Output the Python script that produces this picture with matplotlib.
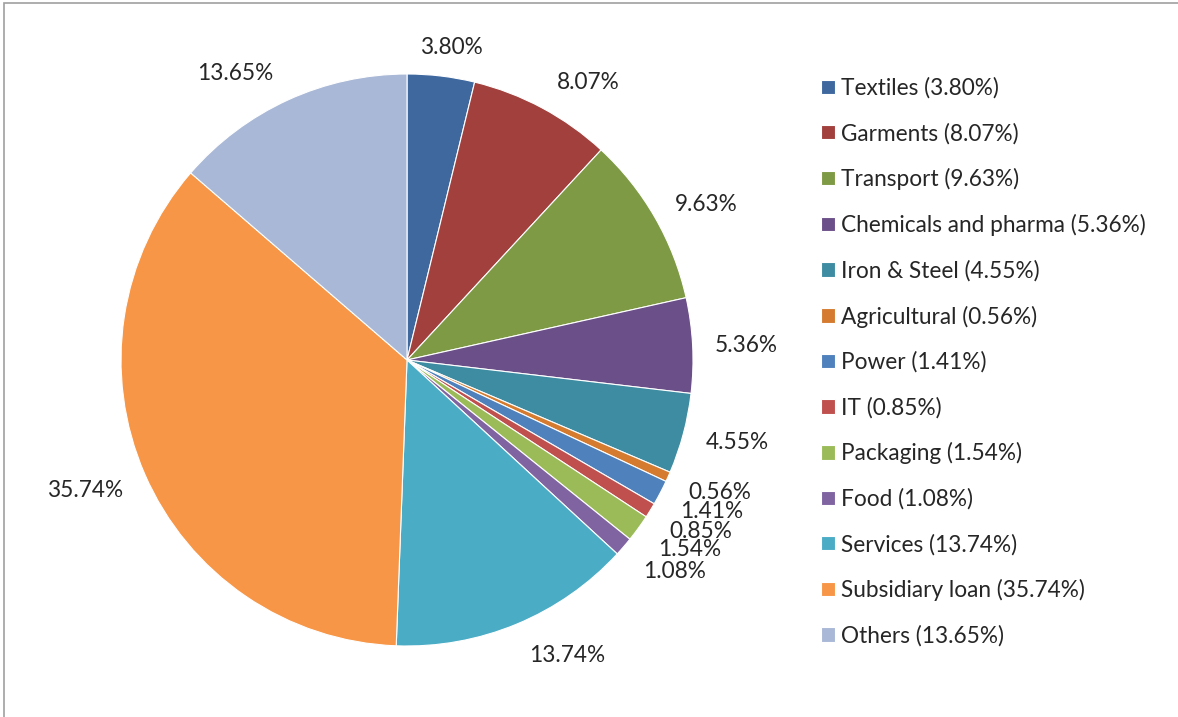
import matplotlib.pyplot as plt
from matplotlib.patches import Rectangle

# data
sectors = ['Textiles', 'Garments', 'Transport', 'Chemicals and pharma', 'Iron & Steel',
           'Agricultural', 'Power', 'IT', 'Packaging', 'Food', 'Services',
           'Subsidiary loan', 'Others']
shares = [3.80, 8.07, 9.63, 5.36, 4.55, 0.56, 1.41, 0.85, 1.54, 1.08, 13.74, 35.74, 13.65]
colors = ['#3F689F', '#A1403D', '#7E9A45', '#6A4F88', '#3D8CA2', '#D57B30', '#4F81BD',
          '#C0504D', '#9BBB59', '#8064A2', '#4BACC6', '#F79646', '#A9B8D6']

plt.rcParams['font.family'] = ['Lato', 'DejaVu Sans']

W, H = 1178, 717
fig = plt.figure(figsize=(W / 100, H / 100), dpi=100)

# outer chart frame (only top and left edges are visible)
fig.add_artist(Rectangle((4 / W, -0.1), 1.2, (H - 3) / H + 0.1, transform=fig.transFigure,
                         fill=False, edgecolor='#A0A0A0', linewidth=1.2))

# pie axes: centre (407, 360) px, radius 286 px
cx, cy, R, box = 407, 360, 286, 350
ax = fig.add_axes([(cx - box) / W, (H - cy - box) / H, 2 * box / W, 2 * box / H])

wedges, _ = ax.pie(shares, colors=colors, startangle=90, counterclock=False, radius=1,
                   wedgeprops=dict(edgecolor='white', linewidth=0.8))
lim = box / R
ax.set_xlim(-lim, lim)
ax.set_ylim(-lim, lim)
ax.set_aspect('equal')
ax.axis('off')

# data label positions (in pie radius units), best-fit style as in the original
label_pos = [(0.157, 1.094), (0.633, 0.972), (1.045, 0.545), (1.185, 0.049),
             (1.154, -0.290), (1.094, -0.465), (1.066, -0.531), (1.027, -0.598),
             (0.987, -0.664), (0.934, -0.741), (0.559, -1.034), (-1.126, -0.455),
             (-0.601, 1.003)]

for (x, y), v in zip(label_pos, shares):
    ax.text(x, y, f'{v:.2f}%', ha='center', va='center', fontsize=16.3, color='#262626')

labels = [f'{s} ({v:.2f}%)' for s, v in zip(sectors, shares)]
fig.legend(wedges, labels, loc='upper left', bbox_to_anchor=(801 / W, 1 - 57 / H),
           frameon=False, fontsize=16.3, handlelength=0.6, handleheight=0.6,
           handletextpad=0.28, labelspacing=1.055, labelcolor='#262626')

fig.savefig('out.png', dpi=100)
